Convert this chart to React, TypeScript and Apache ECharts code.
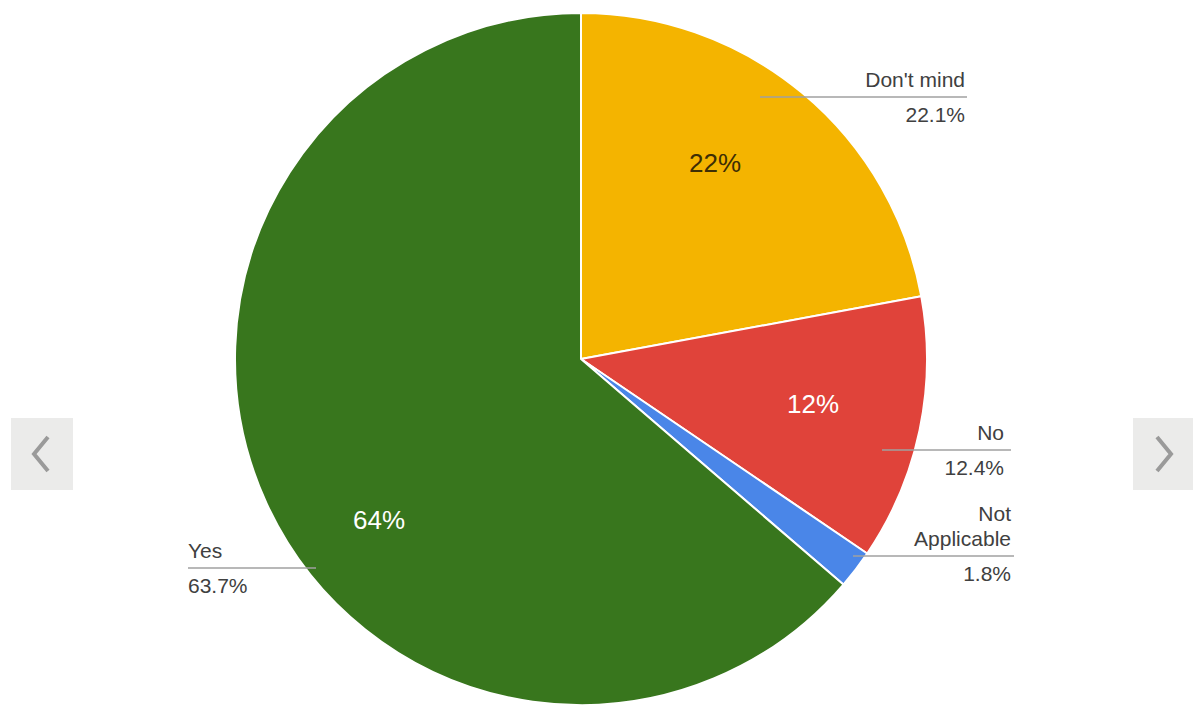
import React, { useEffect, useRef } from 'react';
import * as echarts from 'echarts';

const categories = ["Don't mind", 'No', 'Not Applicable', 'Yes'];
const values = [22.1, 12.4, 1.8, 63.7];
const sliceColors = ['#f4b400', '#e0433a', '#4a86e8', '#38761d'];
const insideTextColors = ['#3d2e05', '#ffffff', '#ffffff', '#ffffff'];

// label layout (pixels), separate from the data
const outsideLayout = [
  { lineY: 97, x0: 760, x1: 967, textX: 965, align: 'right' },
  { lineY: 450, x0: 882, x1: 1011, textX: 1004, align: 'right' },
  { lineY: 556, x0: 853, x1: 1014, textX: 1011, align: 'right' },
  { lineY: 568, x0: 316, x1: 188, textX: 188, align: 'left' },
];
const insideLayout: (number[] | null)[] = [[715, 163], [813, 404], null, [379, 520]];

const CENTER = [581, 359];
const RADIUS = 346;
const FONT = '"Liberation Sans", Arial, sans-serif';

export default function App() {
  const ref = useRef<HTMLDivElement>(null);
  useEffect(() => {
    if (!ref.current) return;
    const chart = echarts.init(ref.current, null, { renderer: 'svg' });
    const data = categories.map((name, i) => ({ name, value: values[i] }));
    const option: any = {
      animation: false,
      backgroundColor: '#ffffff',
      textStyle: { fontFamily: FONT },
      series: [
        {
          type: 'pie',
          z: 2,
          center: CENTER,
          radius: RADIUS,
          startAngle: 90,
          clockwise: true,
          avoidLabelOverlap: false,
          silent: true,
          data: data.map((d, i) => ({
            ...d,
            itemStyle: { color: sliceColors[i] },
            label: { color: insideTextColors[i] },
          })),
          itemStyle: { borderColor: '#ffffff', borderWidth: 2 },
          label: {
            show: true,
            position: 'inside',
            fontSize: 26,
            fontFamily: FONT,
            formatter: (p: any) => (p.value < 5 ? '' : Math.round(p.value) + '%'),
          },
          labelLine: { show: false },
          labelLayout: (p: any) => {
            const pos = insideLayout[p.dataIndex];
            if (!pos) return {};
            return { x: pos[0], y: pos[1], align: 'center', verticalAlign: 'middle' };
          },
        },
        {
          type: 'pie',
          z: 6,
          zlevel: 1,
          center: CENTER,
          radius: RADIUS,
          startAngle: 90,
          clockwise: true,
          avoidLabelOverlap: false,
          silent: true,
          data,
          itemStyle: { color: 'rgba(0,0,0,0)', borderWidth: 0 },
          label: {
            show: true,
            position: 'outside',
            fontFamily: FONT,
            formatter: (p: any) => {
              const nameLines = p.name.length > 12 ? p.name.split(' ') : [p.name];
              return nameLines.map((l: string) => '{n|' + l + '}').join('\n') + '\n{g| }\n{v|' + p.value + '%}';
            },
            rich: {
              n: { fontSize: 21, lineHeight: 25, color: '#404040', fontFamily: FONT },
              g: { fontSize: 2, lineHeight: 10, height: 10 },
              v: { fontSize: 21, lineHeight: 25, color: '#404040', fontFamily: FONT },
            },
          },
          labelLine: { show: true, length: 10, length2: 10, lineStyle: { color: '#a0a0a0', width: 1.5 } },
          labelLayout: (p: any) => {
            const l = outsideLayout[p.dataIndex];
            const midX = (l.x0 + l.x1) / 2;
            return {
              x: l.textX,
              y: l.lineY + 5 + 25,
              align: l.align,
              verticalAlign: 'bottom',
              labelLinePoints: [
                [l.x0, l.lineY],
                [midX, l.lineY],
                [l.x1, l.lineY],
              ],
            };
          },
        },
      ],
      graphic: [
        { type: 'rect', shape: { x: 11, y: 418, width: 62, height: 72 }, style: { fill: '#ebebea' } },
        { type: 'polyline', shape: { points: [[48, 437], [34, 454], [48, 471]] }, style: { stroke: '#9a9a9a', lineWidth: 4, fill: 'none' } },
        { type: 'rect', shape: { x: 1133, y: 418, width: 60, height: 72 }, style: { fill: '#ebebea' } },
        { type: 'polyline', shape: { points: [[1157, 437], [1171, 454], [1157, 471]] }, style: { stroke: '#9a9a9a', lineWidth: 4, fill: 'none' } },
      ],
    };
    chart.setOption(option);
    return () => chart.dispose();
  }, []);
  return <div ref={ref} style={{ position: 'absolute', left: 0, top: 0, width: 1193, height: 707 }} />;
}
